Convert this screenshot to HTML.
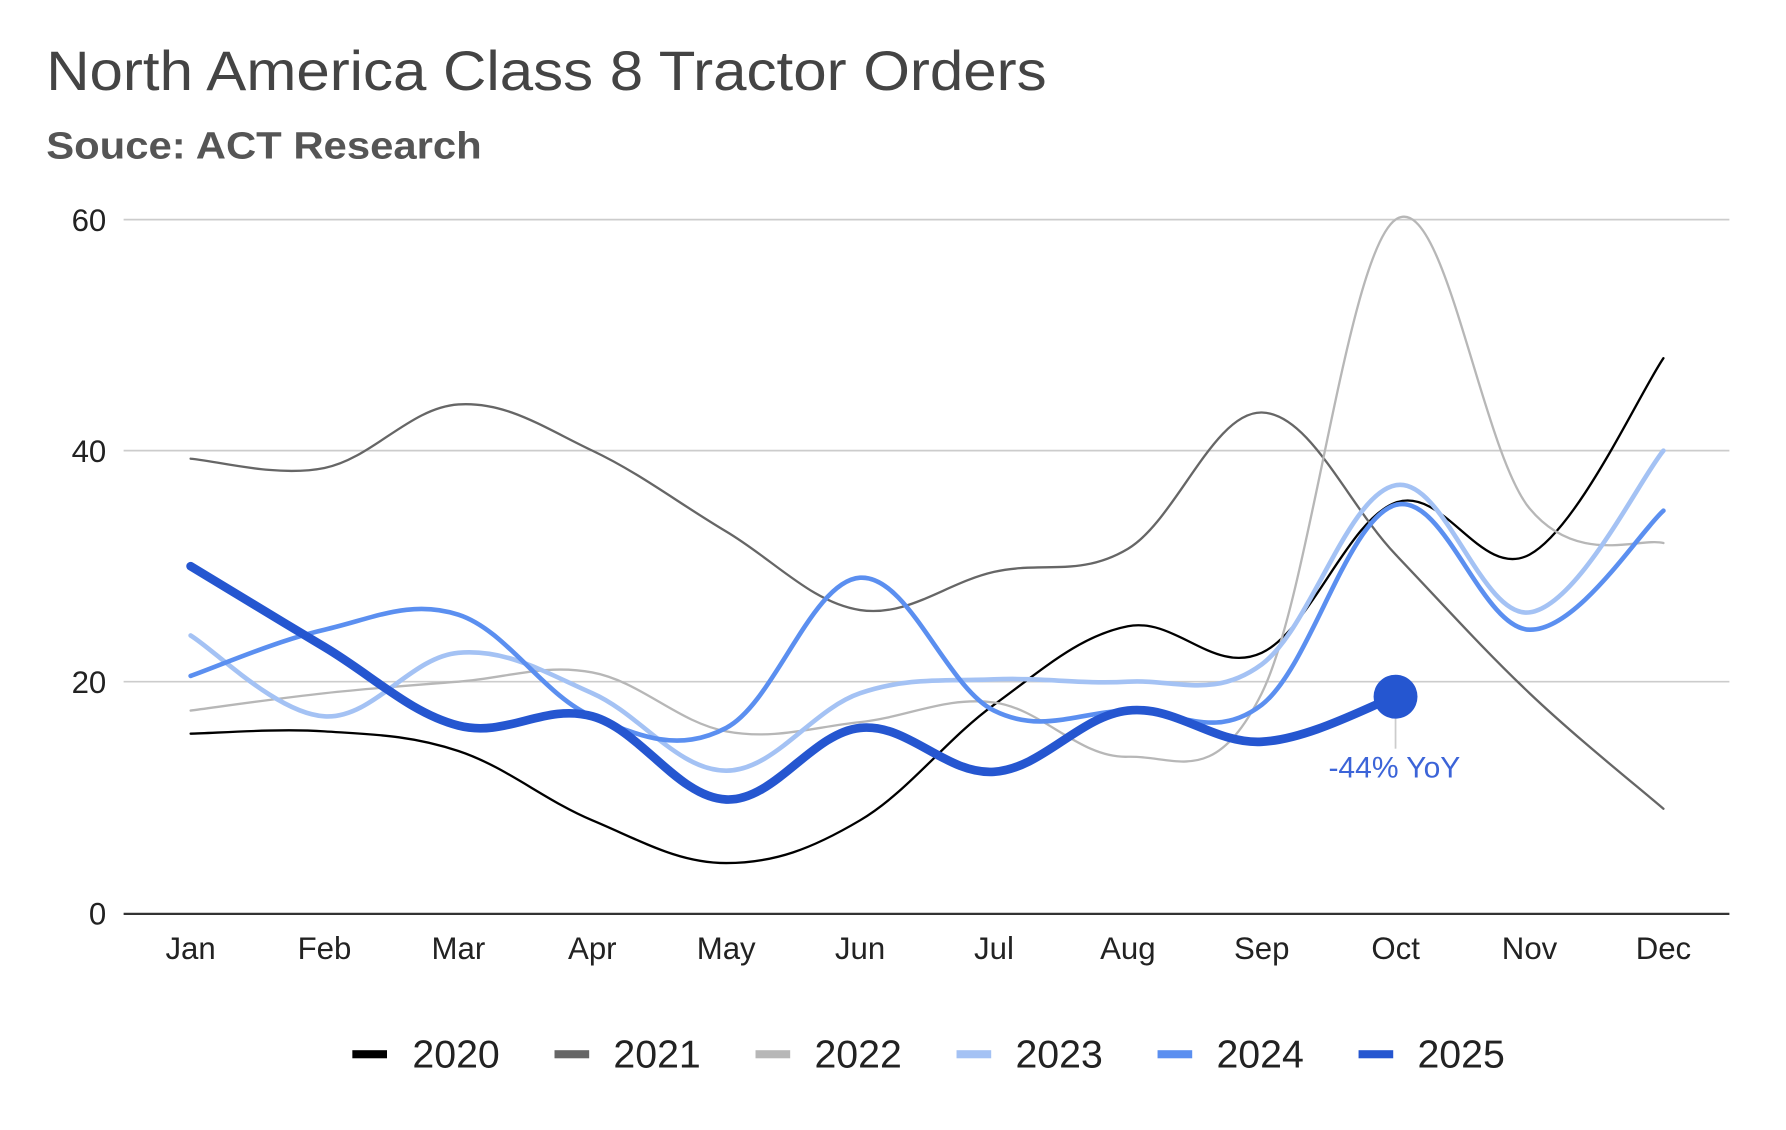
<!DOCTYPE html>
<html><head><meta charset="utf-8"><style>
html,body{margin:0;padding:0;background:#fff;}
svg{display:block;font-family:"Liberation Sans",Arial,sans-serif;}
</style></head><body>
<svg id="s" width="1786" height="1130" viewBox="0 0 1546 978" xmlns="http://www.w3.org/2000/svg">
<rect width="1546" height="978" fill="#fff"/>
<text x="40" y="78" font-size="48" fill="#444" textLength="866" lengthAdjust="spacingAndGlyphs">North America Class 8 Tractor Orders</text>
<text x="40" y="137" font-size="33" font-weight="bold" fill="#555" textLength="377" lengthAdjust="spacingAndGlyphs">Souce: ACT Research</text>
<g stroke="#ccc" stroke-width="1.5">
<line x1="107" y1="190" x2="1497" y2="190"/>
<line x1="107" y1="390" x2="1497" y2="390"/>
<line x1="107" y1="590" x2="1497" y2="590"/>
</g>
<line x1="107" y1="791" x2="1497" y2="791" stroke="#333" stroke-width="2"/>
<g font-size="27" fill="#222" text-anchor="end">
<text x="92" y="200">60</text><text x="92" y="400">40</text><text x="92" y="600">20</text><text x="92" y="800">0</text>
</g>
<g id="xl" font-size="27" fill="#222" text-anchor="middle"></g>
<g id="lines" fill="none" stroke-linecap="round" stroke-linejoin="round"></g>
<line x1="1208" y1="618" x2="1208" y2="648" stroke="#ccc" stroke-width="1.5"/>
<circle cx="1208" cy="603" r="19" fill="#2556d0"/>
<text x="1207" y="673" font-size="26" fill="#3c64d8" text-anchor="middle">-44% YoY</text>
<g font-size="34" fill="#222">
<rect x="305" y="909" width="30" height="7" fill="#000"/><text x="357" y="924">2020</text>
<rect x="480" y="909" width="30" height="7" fill="#666"/><text x="531" y="924">2021</text>
<rect x="654" y="909" width="30" height="7" fill="#b7b7b7"/><text x="705" y="924">2022</text>
<rect x="828" y="909" width="30" height="7" fill="#a4c2f4"/><text x="879" y="924">2023</text>
<rect x="1002" y="909" width="30" height="7" fill="#5b8ff0"/><text x="1053" y="924">2024</text>
<rect x="1176" y="909" width="30" height="7" fill="#2556d0"/><text x="1227" y="924">2025</text>
</g>
</svg>
<script>
var ns="http://www.w3.org/2000/svg";
var m=["Jan","Feb","Mar","Apr","May","Jun","Jul","Aug","Sep","Oct","Nov","Dec"];
function X(i){return 165+i*115.9;}function Y(v){return 790-10*v;}
var xl=document.getElementById("xl");
m.forEach(function(t,i){var e=document.createElementNS(ns,"text");e.setAttribute("x",X(i));e.setAttribute("y",830);e.textContent=t;xl.appendChild(e);});
var S=[
["#000",2,[15.5,15.7,14,8,4.3,8,18,24.8,22.5,35.5,31,48]],
["#666",2,[39.3,38.5,44,40,33,26.2,29.5,31.5,43.3,31,19,9]],
["#b7b7b7",2,[17.5,19,20,20.8,15.7,16.5,18.2,13.5,19,60,35,32]],
["#a4c2f4",4,[24,17,22.5,19,12.3,19,20.2,20,21.5,37,26,40]],
["#5b8ff0",4,[20.5,24.5,25.8,17,16,29,17.5,17.5,18,35.3,24.5,34.8]],
["#2556d0",7.5,[30,23,16.2,17,9.8,16,12.2,17.5,14.8,18.7]]];
var g=document.getElementById("lines");
S.forEach(function(s){var p=s[2].map(function(v,i){return[X(i),Y(v)];});
var d="M"+p[0][0]+","+p[0][1];var k=0.18;
for(var i=0;i<p.length-1;i++){var a=p[i-1]||p[i],b=p[i],c=p[i+1],e=p[i+2]||c;
var c1=[b[0]+(c[0]-a[0])*k,b[1]+(c[1]-a[1])*k],c2=[c[0]-(e[0]-b[0])*k,c[1]-(e[1]-b[1])*k];
d+=" C"+c1+" "+c2+" "+c;}
var el=document.createElementNS(ns,"path");el.setAttribute("d",d);el.setAttribute("stroke",s[0]);el.setAttribute("stroke-width",s[1]);g.appendChild(el);});
</script>
</body></html>
